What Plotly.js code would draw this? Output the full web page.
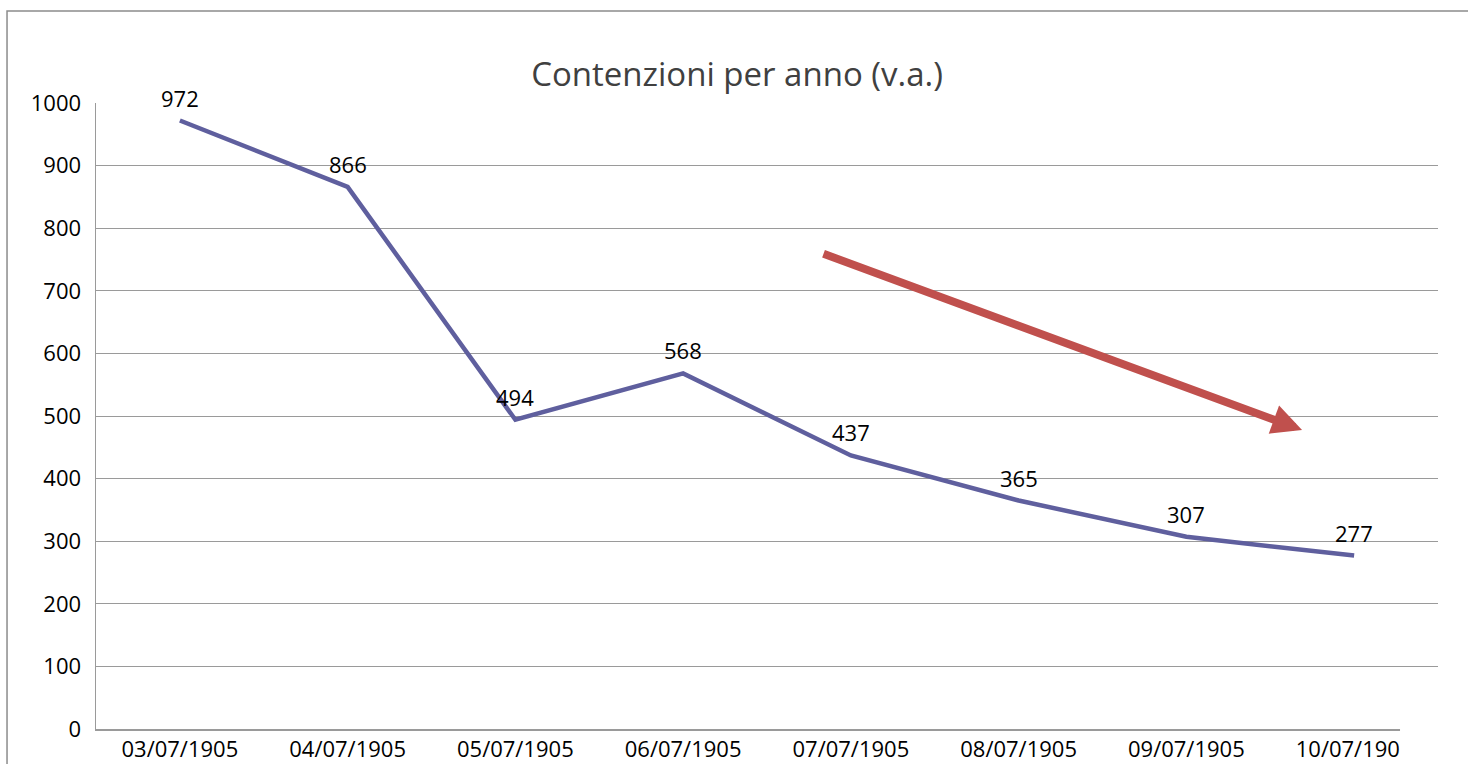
<!DOCTYPE html>
<html><head><meta charset="utf-8">
<script src="https://cdn.plot.ly/plotly-3.0.1.min.js"></script>
<style>html,body{margin:0;padding:0;background:#fff}#chart{width:1468px;height:764px}</style>
</head><body><div id="chart"></div>
<script>
const categories = ["03/07/1905","04/07/1905","05/07/1905","06/07/1905","07/07/1905","08/07/1905","09/07/1905","10/07/1905"];
const values = [972, 866, 494, 568, 437, 365, 307, 277];
const yTicks = [0,100,200,300,400,500,600,700,800,900,1000];
const chartTitle = "Contenzioni per anno (v.a.)";

const FONT = "'Open Sans', Lato, sans-serif";

const trace = {
  x: categories, y: values, type: "scatter", mode: "lines",
  line: {color: "#5F5F9E", width: 4.5},
  hoverinfo: "skip", cliponaxis: false
};

const labelAnnotations = categories.map((c, i) => ({
  x: c, y: values[i], xref: "x", yref: "y", text: String(values[i]),
  showarrow: false, yanchor: "bottom", xanchor: "center", yshift: 6,
  font: {family: FONT, size: 22, color: "#000"}
}));

const layout = {
  width: 1468, height: 764,
  margin: {l: 96, r: 30, t: 103, b: 35},
  paper_bgcolor: "#fff", plot_bgcolor: "#fff",
  showlegend: false,
  font: {family: FONT, color: "#000"},
  title: {text: chartTitle, font: {family: FONT, size: 33, color: "#404040"},
          xref: "paper", x: 0.4777, xanchor: "center", yref: "container", y: 0.902, yanchor: "middle"},
  xaxis: {type: "category", range: [-0.5, categories.length - 0.5], showgrid: false, showline: true,
          linecolor: "#9a9a9a", linewidth: 1.5,
          ticks: "", tickfont: {family: FONT, size: 22, color: "#000"}, zeroline: false, fixedrange: true},
  yaxis: {range: [0, 1000], tickvals: yTicks, showgrid: true, gridcolor: "#9a9a9a", gridwidth: 1,
          showline: true, linecolor: "#9a9a9a", linewidth: 1.5, ticks: "", ticklabelstandoff: 9,
          tickfont: {family: FONT, size: 22, color: "#000"}, zeroline: false, fixedrange: true},
  shapes: [
    {type: "rect", xref: "paper", yref: "paper", x0: -0.0663, x1: 1.2, y0: -0.3, y1: 1.147,
     line: {color: "#8c8c8c", width: 1.5}, fillcolor: "rgba(0,0,0,0)", layer: "below"},
    {type: "rect", xref: "paper", yref: "paper", x0: 0.9717, x1: 1.2, y0: -0.3, y1: 0.055,
     line: {width: 0}, fillcolor: "#fff", layer: "above"}
  ],
  annotations: labelAnnotations.concat([
    {xref: "paper", yref: "paper", axref: "paper", ayref: "paper",
     x: 0.8987, y: 0.4776, ax: 0.541, ay: 0.760, text: "", showarrow: true,
     arrowhead: 2, arrowsize: 0.75, arrowwidth: 8, arrowcolor: "#C0504D", standoff: 0, startstandoff: 0}
  ])
};

Plotly.newPlot("chart", [trace], layout, {displayModeBar: false, staticPlot: true});
</script></body></html>
